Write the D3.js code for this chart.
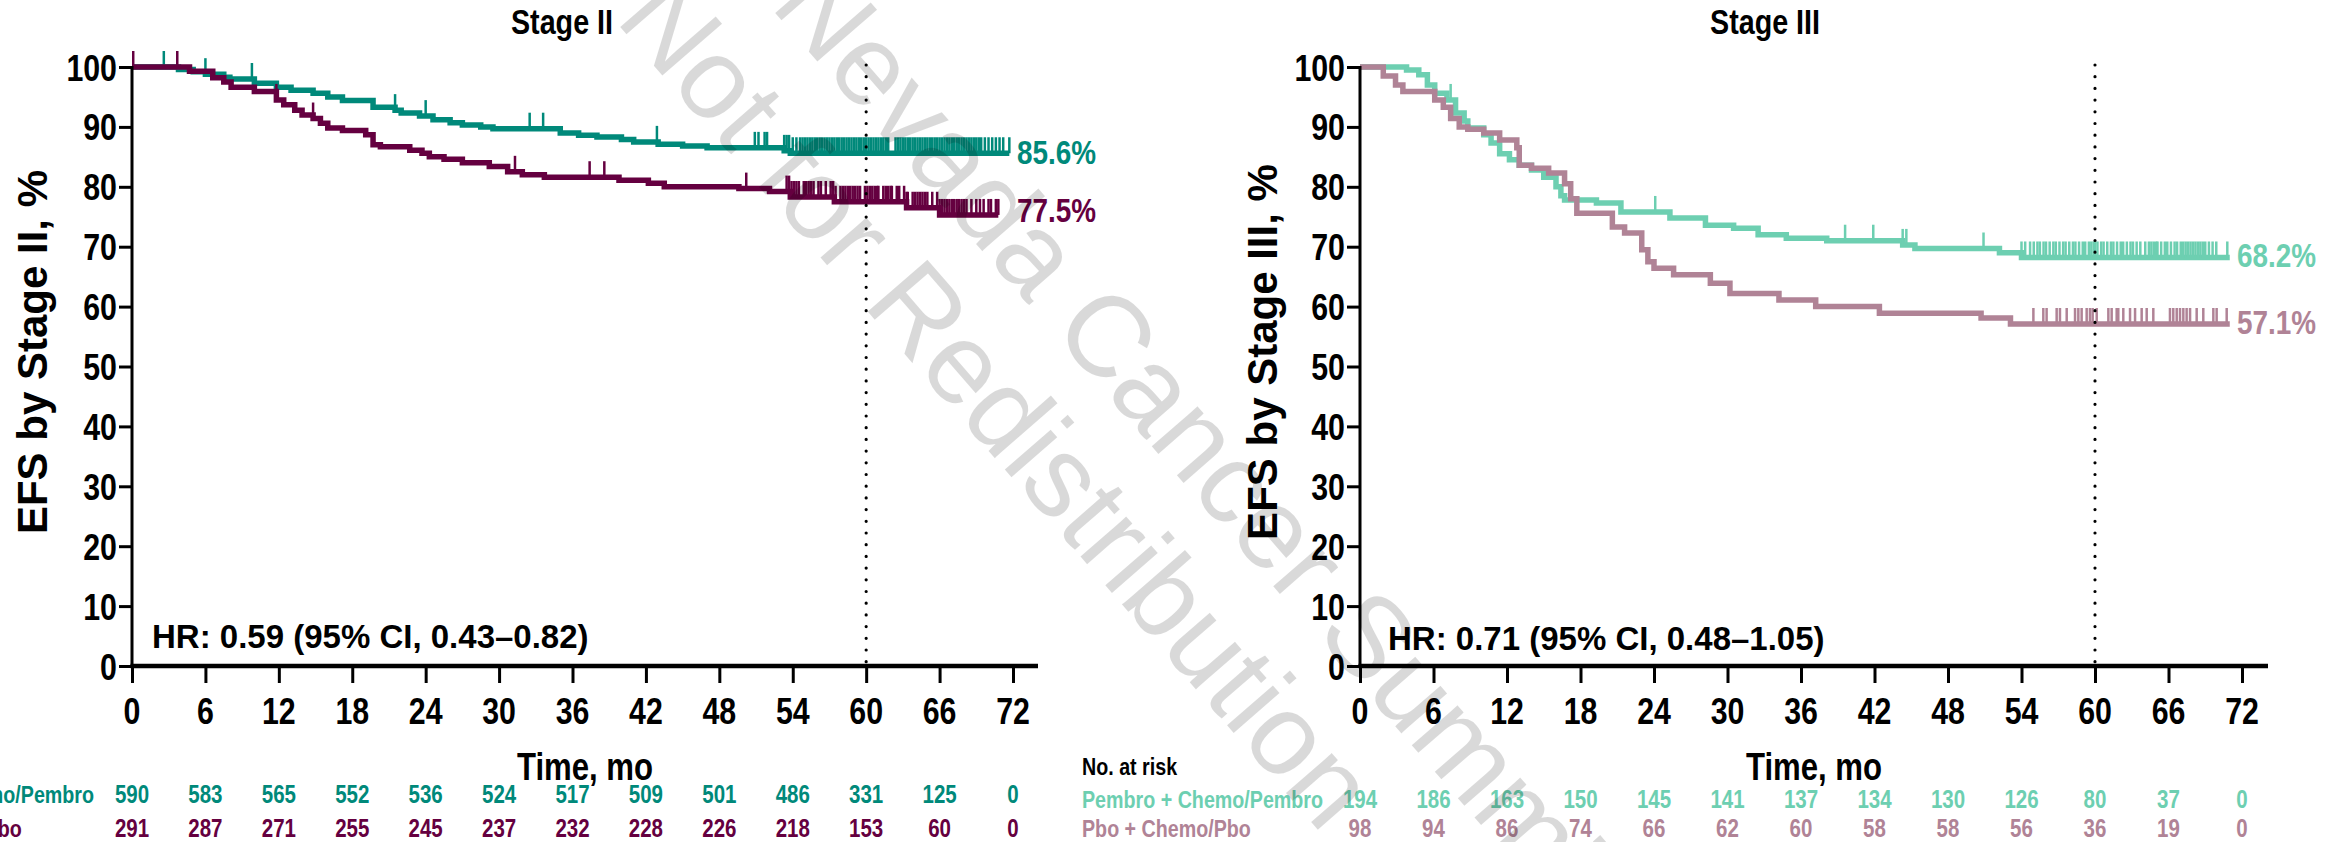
<!DOCTYPE html>
<html><head><meta charset="utf-8">
<script src="https://cdn.jsdelivr.net/npm/d3@7"></script>
<style>
html,body{margin:0;padding:0;background:#fff;overflow:hidden}
svg{display:block}
</style></head><body>
<svg id="chart" width="2335" height="842"></svg>
<script>
// ---------------- DATA ----------------
const timeTicks = [0, 6, 12, 18, 24, 30, 36, 42, 48, 54, 60, 66, 72];
const yTicks = [0, 10, 20, 30, 40, 50, 60, 70, 80, 90, 100];
const armLabels = ["Pembro + Chemo/Pembro", "Pbo + Chemo/Pbo"];

// Stage II, Pembro + Chemo/Pembro (step start times, survival %)
const s2PembroTime = [0, 3.8, 5.0, 6.0, 7.5, 8.0, 10.0, 11.8, 13.0, 14.8, 16.0, 17.2, 19.7, 21.5, 22.0, 23.5, 24.6, 26.0, 27.0, 28.5, 29.5, 35.0, 36.5, 38.0, 40.0, 41.0, 43.0, 45.0, 47.0, 53.3, 53.8, 71.7];
const s2PembroSurv = [100, 99.6, 99.2, 98.8, 98.3, 98.0, 97.3, 96.6, 96.1, 95.6, 95.0, 94.4, 93.3, 92.8, 92.3, 91.8, 91.2, 90.7, 90.3, 90.0, 89.7, 89.0, 88.6, 88.3, 87.9, 87.5, 87.1, 86.8, 86.5, 86.0, 85.6, 85.6];
const s2PembroCensor = [2.6, 6.0, 9.8, 21.5, 24.0, 32.5, 33.6, 42.9, 50.9, 51.2, 51.7, 51.9, 53.3, 53.5, 53.7, 54.0, 54.3, 54.6, 54.8, 55.0, 55.2, 55.4, 55.6, 55.8, 56.0, 56.2, 56.4, 56.6, 56.8, 57.0, 57.2, 57.4, 57.6, 57.8, 58.0, 58.2, 58.4, 58.6, 58.8, 59.0, 59.2, 59.4, 59.6, 59.8, 60.0, 60.2, 60.4, 60.6, 60.8, 61.0, 61.2, 61.4, 61.6, 61.8, 62.4, 62.6, 62.8, 63.0, 63.2, 63.4, 63.6, 63.8, 64.0, 64.2, 64.4, 64.6, 64.8, 65.0, 65.2, 65.4, 65.6, 65.8, 66.0, 66.2, 66.4, 66.6, 66.8, 67.0, 67.2, 67.4, 67.6, 67.8, 68.0, 68.2, 68.4, 68.6, 68.8, 69.0, 69.2, 69.4, 69.7, 70.0, 70.3, 70.6, 70.9, 71.2, 71.7];

// Stage II, Pbo + Chemo/Pbo
const s2PboTime = [0, 4.7, 6.6, 7.5, 8.1, 10.0, 11.8, 12.4, 13.3, 13.9, 14.8, 15.4, 16.0, 17.2, 19.1, 19.7, 20.3, 22.7, 23.7, 24.3, 25.5, 27.0, 29.2, 30.7, 31.9, 33.7, 39.8, 42.2, 43.5, 49.6, 52.1, 53.8, 57.4, 63.3, 66.0, 70.8];
const s2PboSurv = [100, 99.3, 98.2, 97.5, 96.6, 95.9, 94.5, 93.7, 92.8, 92.0, 91.4, 90.6, 89.8, 89.4, 88.7, 87.0, 86.7, 86.1, 85.6, 85.0, 84.6, 84.0, 83.4, 82.5, 82.0, 81.6, 81.1, 80.6, 80.0, 79.7, 79.2, 78.3, 77.5, 76.5, 75.3, 75.3];
const s2PboCensor = [0.1, 3.7, 11.8, 14.8, 31.3, 37.4, 38.6, 50.2, 53.5, 53.7, 53.9, 54.1, 54.3, 54.5, 54.9, 55.1, 55.3, 55.5, 55.7, 56.1, 56.3, 56.7, 57.1, 57.3, 57.5, 57.9, 58.1, 58.3, 58.5, 58.7, 58.9, 59.1, 59.3, 59.5, 59.9, 60.1, 60.3, 60.5, 60.7, 60.9, 61.0, 61.4, 61.6, 61.8, 62.0, 62.1, 62.5, 62.7, 63.1, 63.3, 63.4, 63.8, 64.0, 64.2, 64.4, 64.6, 64.8, 65.0, 65.4, 65.8, 66.0, 66.2, 66.4, 66.6, 66.8, 67.0, 67.2, 67.4, 67.6, 67.8, 68.0, 68.2, 68.6, 69.0, 69.3, 69.6, 70.0, 70.2, 70.6, 70.8];

// Stage III, Pembro + Chemo/Pembro
const s3PembroTime = [0, 3.8, 4.8, 5.5, 6.1, 7.1, 7.8, 8.5, 8.8, 10.1, 10.7, 11.4, 12.2, 13.0, 14.0, 15.0, 16.0, 16.4, 16.7, 19.3, 21.3, 25.3, 28.2, 30.5, 32.5, 34.8, 38.1, 44.3, 45.3, 52.2, 54.0, 71.0];
const s3PembroSurv = [100, 99.5, 98.7, 97.0, 95.6, 94.5, 92.3, 91.0, 89.8, 88.7, 87.3, 85.5, 84.5, 83.6, 82.8, 81.6, 80.0, 78.5, 77.8, 77.3, 75.8, 74.8, 73.6, 73.1, 72.0, 71.4, 71.0, 70.3, 69.7, 69.0, 68.2, 68.2];
const s3PembroCensor = [7.4, 24.1, 39.6, 41.9, 44.3, 44.6, 50.9, 54.0, 54.3, 54.7, 55.0, 55.3, 55.5, 55.8, 56.0, 56.3, 56.6, 56.8, 57.1, 57.4, 57.6, 57.9, 58.2, 58.4, 58.7, 59.0, 59.2, 59.5, 59.7, 59.9, 60.0, 60.2, 60.5, 60.7, 61.0, 61.3, 61.5, 61.8, 62.1, 62.3, 62.6, 62.9, 63.1, 63.4, 63.7, 64.1, 64.4, 64.6, 64.8, 65.0, 65.1, 65.4, 65.7, 65.9, 66.2, 66.5, 66.7, 67.0, 67.2, 67.4, 67.6, 67.8, 68.0, 68.2, 68.4, 68.6, 68.8, 69.0, 69.3, 69.6, 69.9, 70.8];

// Stage III, Pbo + Chemo/Pbo
const s3PboTime = [0, 1.9, 2.9, 3.5, 6.1, 6.8, 7.4, 8.1, 8.8, 10.1, 11.4, 12.8, 13.0, 14.0, 15.4, 16.7, 17.2, 17.7, 20.6, 21.6, 23.0, 23.5, 24.0, 25.6, 28.6, 30.2, 34.2, 37.2, 42.4, 50.7, 53.1, 71.0];
const s3PboSurv = [100, 98.5, 97.0, 95.9, 94.5, 93.3, 91.4, 90.0, 89.6, 89.0, 87.8, 86.5, 83.6, 83.1, 82.3, 80.5, 78.0, 75.6, 73.3, 72.3, 69.5, 67.5, 66.4, 65.3, 63.9, 62.2, 61.1, 60.0, 58.9, 58.1, 57.1, 57.1];
const s3PboCensor = [54.97, 55.78, 56.05, 56.87, 57.14, 57.69, 58.37, 58.64, 58.91, 59.32, 59.59, 59.81, 60.14, 61.09, 61.36, 61.77, 61.9, 62.31, 62.86, 63.27, 63.81, 64.22, 64.76, 66.12, 66.39, 66.67, 66.94, 67.21, 67.48, 67.76, 68.3, 68.84, 69.66, 69.93, 70.75];

// Numbers at risk
const s2PembroRisk = [590, 583, 565, 552, 536, 524, 517, 509, 501, 486, 331, 125, 0];
const s2PboRisk = [291, 287, 271, 255, 245, 237, 232, 228, 226, 218, 153, 60, 0];
const s3PembroRisk = [194, 186, 163, 150, 145, 141, 137, 134, 130, 126, 80, 37, 0];
const s3PboRisk = [98, 94, 86, 74, 66, 62, 60, 58, 58, 56, 36, 19, 0];

const landmarkLabels2 = ["85.6%", "77.5%"];
const landmarkLabels3 = ["68.2%", "57.1%"];

// ---------------- RENDER ----------------
function fontAvailable(f) {
  const c = document.createElement('canvas').getContext('2d');
  const s = 'abcdefghijklmnopqrstuvwxyz0123456789';
  c.font = 'bold 40px monospace'; const w0 = c.measureText(s).width;
  c.font = `bold 40px "${f}", monospace`; const w1 = c.measureText(s).width;
  return Math.abs(w0 - w1) > 0.5;
}
const NARROW = fontAvailable('Liberation Sans Narrow');
const SANS = "'Liberation Sans', Arial, Helvetica, sans-serif";

function addText(g, o) {
  const t = g.append('text').text(o.text)
    .attr('font-size', o.size).attr('font-weight', o.weight || 'bold')
    .attr('text-anchor', o.anchor || 'start').attr('fill', o.fill || '#000');
  if (o.narrow && NARROW) {
    t.attr('font-family', "'Liberation Sans Narrow', 'Arial Narrow', sans-serif").attr('x', o.x).attr('y', o.y);
  } else if (o.narrow) {
    t.attr('font-family', SANS).attr('transform', `translate(${o.x},${o.y}) scale(0.82,1)`);
  } else {
    t.attr('font-family', SANS).attr('x', o.x).attr('y', o.y);
  }
  return t;
}

const svg = d3.select('#chart');
svg.append('rect').attr('width', 2335).attr('height', 842).attr('fill', '#fff');

const Y0 = 666, Y100 = 67;

const panels = [
  {
    x0: 132, x72: 1013, axisEnd: 1038, title: 'Stage II', titleX: 562,
    ylabel: 'EFS by Stage II, %', ylabelX: 47,
    hr: 'HR: 0.59 (95% CI, 0.43–0.82)', hrX: 152, hrY: 648,
    colors: ['#00897a', '#650040'],
    series: [[s2PembroTime, s2PembroSurv, s2PembroCensor], [s2PboTime, s2PboSurv, s2PboCensor]],
    risk: [s2PembroRisk, s2PboRisk], riskY: [803, 837], riskLabelX: -147,
    pct: landmarkLabels2, pctX: 1017, pctY: [164, 222], showNoAtRisk: false
  },
  {
    x0: 1360, x72: 2242, axisEnd: 2268, title: 'Stage III', titleX: 1765,
    ylabel: 'EFS by Stage III, %', ylabelX: 1277,
    hr: 'HR: 0.71 (95% CI, 0.48–1.05)', hrX: 1388, hrY: 650,
    colors: ['#6dcfb1', '#b08396'],
    series: [[s3PembroTime, s3PembroSurv, s3PembroCensor], [s3PboTime, s3PboSurv, s3PboCensor]],
    risk: [s3PembroRisk, s3PboRisk], riskY: [808, 837], riskLabelX: 1082,
    pct: landmarkLabels3, pctX: 2237, pctY: [267, 334], showNoAtRisk: true
  }
];

panels.forEach(p => {
  const g = svg.append('g');
  const x = d3.scaleLinear().domain([0, 72]).range([p.x0, p.x72]);
  const y = d3.scaleLinear().domain([0, 100]).range([Y0, Y100]);

  // title
  addText(g, { x: p.titleX, y: 34, text: p.title, size: 35, anchor: 'middle', narrow: true });

  // y label
  g.append('text').text(p.ylabel)
    .attr('transform', `translate(${p.ylabelX},352) rotate(-90)`)
    .attr('text-anchor', 'middle').attr('font-family', SANS).attr('font-weight', 'bold')
    .attr('font-size', 42).attr('fill', '#000');

  // curves
  const line = d3.line().x(d => x(d[0])).y(d => y(d[1])).curve(d3.curveStepAfter);
  p.series.forEach((s, i) => {
    const [tt, ss, cc] = s;
    const pts = tt.map((t, k) => [t, ss[k]]);
    g.append('path').datum(pts).attr('d', line).attr('fill', 'none')
      .attr('stroke', p.colors[i]).attr('stroke-width', 5.5).attr('stroke-linejoin', 'miter');
    const survAt = t => { let v = ss[0]; for (let k = 0; k < tt.length; k++) { if (tt[k] <= t) v = ss[k]; } return v; };
    g.append('g').selectAll('line').data(cc).join('line')
      .attr('x1', d => x(d)).attr('x2', d => x(d))
      .attr('y1', d => y(survAt(d))).attr('y2', d => y(survAt(d)) - 16)
      .attr('stroke', p.colors[i]).attr('stroke-width', 2.5);
  });

  // landmark dotted line at 60 mo
  g.append('line').attr('x1', x(60)).attr('x2', x(60)).attr('y1', 65).attr('y2', Y0)
    .attr('stroke', '#000').attr('stroke-width', 3.2).attr('stroke-linecap', 'round')
    .attr('stroke-dasharray', '0,11.7');

  // axes
  const xAxis = d3.axisBottom(x).tickValues(timeTicks).tickSize(17).tickSizeOuter(0);
  const gx = g.append('g').attr('transform', `translate(0,${Y0})`).call(xAxis);
  gx.select('.domain').remove();
  gx.selectAll('.tick text').remove();
  gx.selectAll('.tick line').attr('stroke', '#000').attr('stroke-width', 3);
  g.append('line').attr('x1', p.x0 - 1.5).attr('x2', p.axisEnd).attr('y1', Y0).attr('y2', Y0)
    .attr('stroke', '#000').attr('stroke-width', 4.5);
  timeTicks.forEach(t => addText(g, { x: x(t), y: 724, text: String(t), size: 37, anchor: 'middle', narrow: true }));

  const yAxis = d3.axisLeft(y).tickValues(yTicks).tickSize(13).tickSizeOuter(0);
  const gy = g.append('g').attr('transform', `translate(${p.x0},0)`).call(yAxis);
  gy.select('.domain').remove();
  gy.selectAll('.tick text').remove();
  gy.selectAll('.tick line').attr('stroke', '#000').attr('stroke-width', 3);
  g.append('line').attr('x1', p.x0).attr('x2', p.x0).attr('y1', Y100 - 1).attr('y2', Y0)
    .attr('stroke', '#000').attr('stroke-width', 3);
  yTicks.forEach(v => addText(g, { x: p.x0 - 15, y: y(v) + 13.5, text: String(v), size: 37, anchor: 'end', narrow: true }));

  // x label
  addText(g, { x: (p.x0 + p.axisEnd) / 2, y: 780, text: 'Time, mo', size: 38, anchor: 'middle', narrow: true });

  // HR
  addText(g, { x: p.hrX, y: p.hrY, text: p.hr, size: 33 });

  // landmark labels
  p.pct.forEach((lab, i) => addText(g, { x: p.pctX, y: p.pctY[i], text: lab, size: 34, fill: p.colors[i], narrow: true }));

  // risk table
  if (p.showNoAtRisk) addText(g, { x: p.riskLabelX, y: 775, text: 'No. at risk', size: 24, narrow: true });
  p.risk.forEach((r, i) => {
    addText(g, { x: p.riskLabelX, y: p.riskY[i], text: armLabels[i], size: 24, fill: p.colors[i], narrow: true });
    r.forEach((n, k) => addText(g, { x: x(timeTicks[k]), y: p.riskY[i], text: String(n), size: 25, anchor: 'middle', fill: p.colors[i], narrow: true }));
  });
});

// watermark
const wm = svg.append('g').attr('fill', '#000').attr('fill-opacity', 0.15)
  .attr('font-family', SANS).attr('font-size', 115);
wm.append('text').text('Nevada Cancer Summit').attr('transform', 'translate(769,6) rotate(49)');
wm.append('text').text('Not for Redistribution').attr('transform', 'translate(614,20) rotate(49)');
</script>
</body></html>
